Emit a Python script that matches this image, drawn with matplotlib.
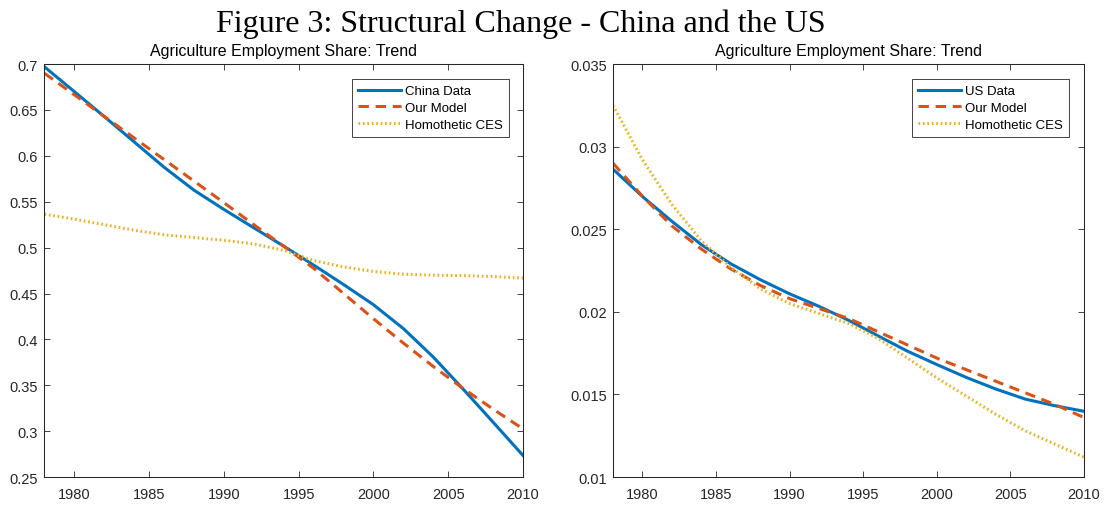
import matplotlib
matplotlib.use("Agg")
import matplotlib.pyplot as plt
from matplotlib.ticker import FixedLocator, FuncFormatter

years = [1978, 1980, 1982, 1984, 1986, 1988, 1990, 1992, 1994, 1996,
         1998, 2000, 2002, 2004, 2006, 2008, 2010]

# China agriculture employment share (trend)
china_data = [0.697, 0.670, 0.6428, 0.6152, 0.5876, 0.5626, 0.5416, 0.5216, 0.5016,
              0.4810, 0.4598, 0.4378, 0.4118, 0.3808, 0.3458, 0.3098, 0.2735]
china_model = [0.690, 0.6665, 0.643, 0.6195, 0.596, 0.5725, 0.549, 0.525, 0.5015,
               0.4775, 0.450, 0.4225, 0.396, 0.3705, 0.3465, 0.324, 0.3025]
china_ces = [0.5365, 0.531, 0.525, 0.519, 0.514, 0.511, 0.508, 0.504, 0.497,
             0.486, 0.479, 0.474, 0.471, 0.470, 0.4695, 0.4685, 0.4668]

# US agriculture employment share (trend)
us_data = [0.02864, 0.02698, 0.02548, 0.02407, 0.02291, 0.02195, 0.02109, 0.02033,
           0.01949, 0.01855, 0.01762, 0.01681, 0.01603, 0.01533, 0.01472, 0.01432, 0.01398]
us_model = [0.0290, 0.0270, 0.0252, 0.0238, 0.0226, 0.0216, 0.0208, 0.0202,
            0.0196, 0.0188, 0.0180, 0.0172, 0.0165, 0.0158, 0.0151, 0.0144, 0.0136]
us_ces = [0.0325, 0.0292, 0.0265, 0.0243, 0.0227, 0.0214, 0.0205, 0.0199,
          0.0193, 0.0184, 0.0172, 0.0160, 0.0149, 0.0138, 0.0128, 0.0120, 0.0112]

x_ticks = [1980, 1985, 1990, 1995, 2000, 2005, 2010]
china_yticks = [0.25, 0.3, 0.35, 0.4, 0.45, 0.5, 0.55, 0.6, 0.65, 0.7]
us_yticks = [0.01, 0.015, 0.02, 0.025, 0.03, 0.035]

panel_title = "Agriculture Employment Share: Trend"
labels_china = ["China Data", "Our Model", "Homothetic CES"]
labels_us = ["US Data", "Our Model", "Homothetic CES"]

BLUE = "#0072BD"
ORANGE = "#D95319"
YELLOW = "#EDB120"
AXC = "#262626"

plt.rcParams["font.family"] = ["Liberation Sans", "DejaVu Sans"]

fig = plt.figure(figsize=(11.04, 5.06), dpi=100)
ax1 = fig.add_axes([0.0403, 0.0553, 0.4334, 0.816])
ax2 = fig.add_axes([0.5553, 0.0553, 0.4266, 0.816])


def draw_panel(ax, data, model, ces, labels, yticks, ylim, leg_anchor):
    ax.plot(years, data, color=BLUE, lw=2.2, label=labels[0])
    ax.plot(years, model, color=ORANGE, lw=2.2, ls=(0, (3.4, 2.2)), label=labels[1])
    ax.plot(years, ces, color=YELLOW, lw=2.2, ls=(0, (0.55, 0.9)), label=labels[2])
    ax.set_xlim(1978, 2010)
    ax.set_ylim(*ylim)
    ax.xaxis.set_major_locator(FixedLocator(x_ticks))
    ax.yaxis.set_major_locator(FixedLocator(yticks))
    ax.yaxis.set_major_formatter(FuncFormatter(lambda v, p: f"{v:g}"))
    ax.tick_params(direction="in", length=4, width=0.6, color=AXC,
                   labelcolor=AXC, labelsize=10.5, top=True, right=True)
    ax.tick_params(axis="x", pad=7.5)
    ax.tick_params(axis="y", pad=4.5)
    for s in ax.spines.values():
        s.set_color(AXC)
        s.set_linewidth(0.75)
    ax.set_title(panel_title, fontsize=11.5, pad=6.5, color="black")
    leg = ax.legend(loc="upper right", bbox_to_anchor=leg_anchor,
                    borderaxespad=0, fancybox=False, fontsize=9.5,
                    handlelength=3.3, handletextpad=0.3, labelspacing=0.35,
                    borderpad=0.45, framealpha=1)
    leg.get_frame().set_edgecolor(AXC)
    leg.get_frame().set_linewidth(0.6)


draw_panel(ax1, china_data, china_model, china_ces, labels_china,
           china_yticks, (0.25, 0.7), (0.971, 0.964))
draw_panel(ax2, us_data, us_model, us_ces, labels_us,
           us_yticks, (0.01, 0.035), (0.968, 0.964))

fig.text(0.472, 0.937, "Figure 3: Structural Change - China and the US",
         ha="center", va="baseline", fontsize=23, family="Liberation Serif")

fig.savefig("out.png", dpi=100)
